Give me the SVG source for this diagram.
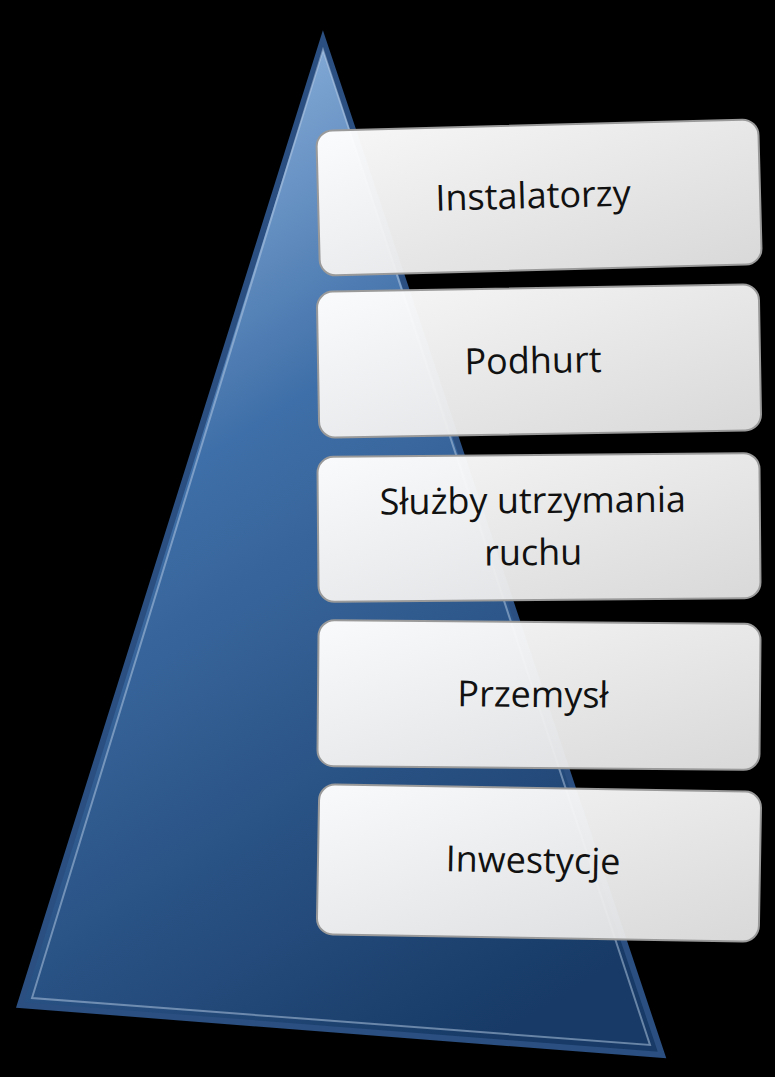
<svg xmlns="http://www.w3.org/2000/svg" width="775" height="1077" viewBox="0 0 775 1077">
<defs>
<linearGradient id="tri" x1="0.3" y1="0" x2="0.7" y2="1">
<stop offset="0" stop-color="#8fb4de"/>
<stop offset="0.35" stop-color="#3f6fa8"/>
<stop offset="1" stop-color="#173a66"/>
</linearGradient>
<linearGradient id="box" x1="0" y1="0" x2="1" y2="1">
<stop offset="0" stop-color="#ffffff" stop-opacity="0.97"/>
<stop offset="1" stop-color="#e4e4e4" stop-opacity="0.95"/>
</linearGradient>
<style>
.b{fill:url(#box);stroke:#9a9a9a;stroke-width:2}
.t{font-family:"Open Sans","Liberation Sans",sans-serif;font-size:36px;fill:#111;text-anchor:middle}
</style>
</defs>
<rect width="775" height="1077" fill="#000"/>
<g id="triangle">
<polygon points="323,40 20,1005 662,1055" fill="url(#tri)" stroke="#2b4f80" stroke-width="6"/>
<polygon points="323,50 32,998 650,1045" fill="none" stroke="#b9cde6" stroke-opacity="0.5" stroke-width="2"/>
</g>
<g id="n1" transform="rotate(-1.5 539 195)"><rect class="b" x="318" y="125" width="442" height="145" rx="16"/><text class="t" x="533" y="208">Instalatorzy</text></g>
<g id="n2" transform="rotate(-1 539 360)"><rect class="b" x="318" y="288" width="442" height="146" rx="16"/><text class="t" x="533" y="373">Podhurt</text></g>
<g id="n3" transform="rotate(-0.5 539 527)"><rect class="b" x="318" y="455" width="442" height="145" rx="16"/><text class="t" x="533" y="513">Służby utrzymania</text><text class="t" x="533" y="565">ruchu</text></g>
<g id="n4" transform="rotate(0.5 539 695)"><rect class="b" x="318" y="622" width="442" height="146" rx="16"/><text class="t" x="533" y="707">Przemysł</text></g>
<g id="n5" transform="rotate(1 539 862)"><rect class="b" x="318" y="788" width="442" height="150" rx="16"/><text class="t" x="533" y="873">Inwestycje</text></g>
<g id="connectors"/>
</svg>
